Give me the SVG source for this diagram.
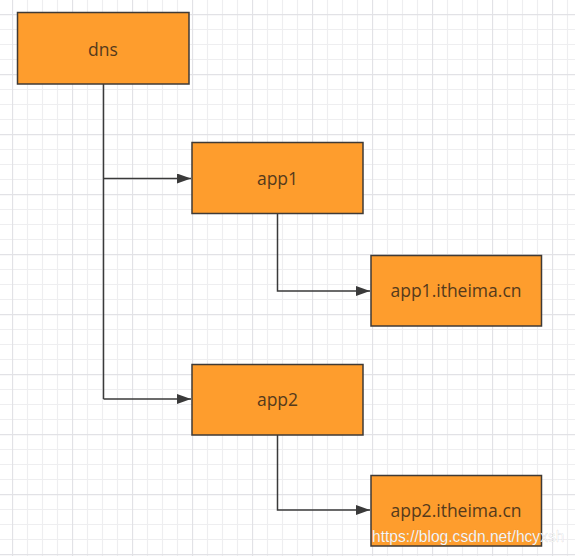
<svg xmlns="http://www.w3.org/2000/svg" width="575" height="556" viewBox="0 0 575 556">
  <style>
    .box { fill: #FE9D2D; stroke: #3f3a36; stroke-width: 1.5; }
    .lbl { font-family: "Open Sans", "Liberation Sans", sans-serif; font-size: 17.5px; fill: #553a1c; text-anchor: middle; }
    .conn { fill: none; stroke: #3a3a3a; stroke-width: 1.5; }
    .wm { font-family: "Liberation Sans", Arial, sans-serif; font-size: 15.6px; fill: #ffffff; stroke: #000; stroke-opacity: 0.12; stroke-width: 0.6; }
  </style>
  <defs>
    <pattern id="grid" patternUnits="userSpaceOnUse" x="12" y="14" width="60" height="60">
      <path d="M15.5 0V60M30.5 0V60M45.5 0V60M0 15.5H60M0 30.5H60M0 45.5H60" stroke="#eeeef0" stroke-width="1.2" fill="none"/>
      <path d="M0.5 0V60M0 0.5H60" stroke="#e2e2e6" stroke-width="1.3" fill="none"/>
    </pattern>
    <marker id="arr" markerWidth="14" markerHeight="10" refX="14" refY="5" orient="auto" markerUnits="userSpaceOnUse">
      <path d="M0 0L14 5L0 10Z" fill="#3a3a3a"/>
    </marker>
  </defs>
  <rect x="0" y="0" width="575" height="556" fill="#ffffff"/>
  <rect x="0" y="0" width="575" height="556" fill="url(#grid)"/>

  <g id="connectors">
    <path class="conn" d="M103.5 84V399"/>
    <path class="conn" d="M103.5 178.5H191" marker-end="url(#arr)"/>
    <path class="conn" d="M103.5 399H191" marker-end="url(#arr)"/>
    <path class="conn" d="M277.5 213V291H370" marker-end="url(#arr)"/>
    <path class="conn" d="M277.5 435V510H370" marker-end="url(#arr)"/>
  </g>

  <g id="dns">
    <rect class="box" x="17.5" y="12.5" width="171.5" height="71.5"/>
    <text class="lbl" x="103" y="55.5">dns</text>
  </g>
  <g id="app1">
    <rect class="box" x="192" y="142.5" width="171" height="71"/>
    <text class="lbl" x="277.5" y="184.5">app1</text>
  </g>
  <g id="app1-domain">
    <rect class="box" x="371" y="255.5" width="170.5" height="70.5"/>
    <text class="lbl" x="456" y="297">app1.itheima.cn</text>
  </g>
  <g id="app2">
    <rect class="box" x="192" y="364.5" width="171" height="70.5"/>
    <text class="lbl" x="277.5" y="406">app2</text>
  </g>
  <g id="app2-domain">
    <rect class="box" x="371" y="475.5" width="170.5" height="70.5"/>
    <text class="lbl" x="456" y="517">app2.itheima.cn</text>
  </g>

  <text class="wm" x="372" y="541.5">https://blog.csdn.net/hcyxsh</text>
</svg>
